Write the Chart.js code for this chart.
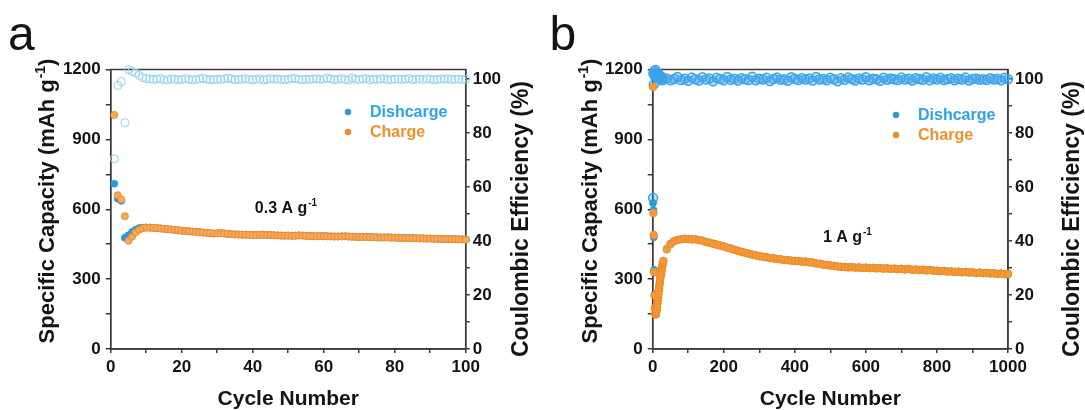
<!DOCTYPE html>
<html><head><meta charset="utf-8">
<script src="https://cdn.jsdelivr.net/npm/chart.js@4/dist/chart.umd.min.js"></script>
<style>
html,body{margin:0;padding:0;background:#fff;}
#wrap{position:relative;width:1085px;height:411px;overflow:hidden;background:#fff;}
.pane{position:absolute;top:0;height:411px;}
</style></head><body>
<div id="wrap">
<div class="pane" style="left:0;width:545px"><canvas id="ca" width="545" height="411"></canvas></div>
<div class="pane" style="left:545px;width:540px"><canvas id="cb" width="540" height="411"></canvas></div>
</div>
<script>
// ---------- Panel a : 0.3 A g-1, 100 cycles ----------
const cyclesA = [1,2,3,4,5,6,7,8,9,10,11,12,13,14,15,16,17,18,19,20,21,22,23,24,25,26,27,28,29,30,31,32,33,34,35,36,37,38,39,40,41,42,43,44,45,46,47,48,49,50,51,52,53,54,55,56,57,58,59,60,61,62,63,64,65,66,67,68,69,70,71,72,73,74,75,76,77,78,79,80,81,82,83,84,85,86,87,88,89,90,91,92,93,94,95,96,97,98,99,100];
const dischargeA = [710,645,636,478,488,502,512,519,521,522,
 521,520,519,518,516,514,513,511,509,508,
 507,505,504,503,502,500,499,497,496,497,
 498,496,494,493,492,492,491,491,490,490,
 489,490,491,490,489,488,488,487,487,487,
 486,487,488,487,486,485,485,484,485,485,
 484,484,483,483,484,484,483,482,482,481,
 481,482,481,480,480,479,479,480,479,478,
 478,477,477,476,477,476,475,475,474,474,
 474,473,473,472,473,472,472,471,471,471];
const chargeA = [1005,660,642,570,465,482,500,512,518,521,
 521,520,519,517,516,515,513,511,510,508,
 507,506,504,503,501,500,499,498,496,497,
 497,496,495,493,492,491,491,490,490,489,
 489,490,490,490,489,488,487,487,486,487,
 486,486,487,487,486,485,484,484,485,484,
 484,483,483,483,483,484,483,482,481,481,
 481,481,480,480,479,479,479,479,478,478,
 477,477,476,476,476,476,475,475,474,474,
 473,473,472,472,472,472,471,471,470,470];
const ceA = [70.5,97.7,99.1,83.9,103.6,102.9,102.3,101.4,100.6,100.2,
 100.1,99.9,100.0,100.3,99.8,99.7,100.1,100.0,99.8,99.9,
 100.2,100.0,99.7,99.9,100.1,100.3,100.0,99.8,99.9,100.0,
 99.9,100.2,100.4,100.1,99.8,99.9,100.0,100.2,99.9,99.8,
 100.0,100.1,99.7,99.9,100.2,100.0,100.1,99.9,99.8,100.0,
 100.2,100.3,99.9,99.8,100.0,99.9,100.1,100.2,99.9,100.0,
 100.4,100.1,99.8,100.0,100.2,99.9,99.7,100.5,100.0,99.9,
 100.1,100.3,99.8,100.0,99.9,100.1,100.2,99.8,99.9,100.0,
 100.1,99.9,100.0,100.3,99.8,100.0,100.1,99.9,100.2,100.0,
 99.8,99.9,100.1,100.0,100.2,99.9,100.0,100.1,99.9,100.0];

// ---------- Panel b : 1 A g-1, 1000 cycles ----------
const cyclesB = [1,2,3,4,5,6,7,8,9,10,11,12,13,14,15,16,17,18,19,20,21,22,23,24,25,26,27,28,29,30,
 40,50,60,70,80,90,100,110,120,130,140,150,160,170,180,190,200,210,220,230,
 240,250,260,270,280,290,300,310,320,330,340,350,360,370,380,390,400,410,420,430,
 440,450,460,470,480,490,500,510,520,530,540,550,560,570,580,590,600,610,620,630,
 640,650,660,670,680,690,700,710,720,730,740,750,760,770,780,790,800,810,820,830,
 840,850,860,870,880,890,900,910,920,930,940,950,960,970,980,990,1000];
const dischargeB = [627,597,480,340,235,178,153,149,151,159,169,181,194,208,222,236,250,263,276,288,300,311,321,331,340,349,357,365,372,379,
 430,452,463,469,472,474,473,471,472,468,466,460,457,453,449,445,441,436,432,427,
 422,418,414,410,406,403,399,397,395,391,390,387,386,383,382,380,379,378,376,376,
 373,372,368,367,363,362,359,358,355,354,353,351,352,350,351,349,350,348,349,347,
 348,346,347,345,346,344,345,342,344,341,342,340,341,338,340,337,337,335,336,333,
 334,332,333,330,332,329,330,327,329,326,327,325,326,323,325,322,323];
const chargeB = [1125,584,489,330,230,175,152,148,150,158,168,180,193,207,221,235,249,262,275,287,299,310,320,330,339,348,356,364,371,378,
 428,450,462,468,471,473,472,470,471,467,465,459,456,452,448,444,440,435,431,426,
 421,417,413,409,405,402,398,396,394,390,389,386,385,382,381,379,378,377,375,375,
 372,371,367,366,362,361,358,357,354,353,352,350,351,349,350,348,349,347,348,346,
 347,345,346,344,345,343,344,341,343,340,341,339,340,337,339,336,336,334,335,332,
 333,331,332,329,331,328,329,326,328,325,326,324,325,322,324,321,322];
const ceB = [56,102,98,103,102,102,101,103.4,102,101,101,102,101,100.3,101,102,101,100.4,101,100.2,101,100.5,100,101,100.3,99.6,100.4,100.2,99.8,100.1,
 100.3,99.6,100.1,100.8,99.7,100.2,99.4,100.6,100.0,99.5,100.7,99.9,100.3,99.2,100.5,100.1,99.6,100.8,99.8,100.2,
 99.5,100.4,100.0,99.7,100.9,99.6,100.2,99.9,100.5,99.3,100.1,100.6,99.8,100.0,99.4,100.7,100.2,99.7,100.4,99.9,
 100.3,99.5,100.8,99.9,100.1,99.6,100.5,100.0,99.2,100.4,99.8,100.6,100.1,99.5,100.3,99.9,100.7,99.6,100.2,100.0,
 99.4,100.5,99.8,100.3,100.0,99.7,100.6,99.9,100.2,99.5,100.4,100.1,99.8,100.7,99.6,100.3,99.9,100.5,99.7,100.1,
 100.4,99.6,100.2,99.9,100.6,99.5,100.1,100.3,99.8,100.0,99.7,100.4,99.9,100.2,99.6,100.5,100.0];

// ---------- tick values ----------
const capTicks = [0,150,300,450,600,750,900,1050,1200];
const ceTicks = [0,10,20,30,40,50,60,70,80,90,100];

const FONT = '"Liberation Sans", Arial, Helvetica, "DejaVu Sans", sans-serif';
const INK = '#141414';
const AXC = '#3a3a3a';
Chart.defaults.font.family = FONT;

// draw text made of normal + superscript segments, centred at (cx,cy), rotated
function richText(ctx, cx, cy, segs, size, color, rot, align) {
  ctx.save();
  ctx.translate(cx, cy);
  ctx.rotate(rot);
  ctx.fillStyle = color;
  ctx.textBaseline = 'alphabetic';
  ctx.textAlign = 'left';
  const supSize = Math.round(size * 0.62);
  let total = 0;
  const widths = segs.map(s => {
    ctx.font = `bold ${s.sup ? supSize : size}px ${FONT}`;
    const w = ctx.measureText(s.t).width + (s.sup ? 1 : 0);
    total += w; return w;
  });
  let x = align === 'left' ? 0 : -total / 2;
  const base = align === 'left' ? 0 : size * 0.36;
  segs.forEach((s, i) => {
    ctx.font = `bold ${s.sup ? supSize : size}px ${FONT}`;
    ctx.fillText(s.t, x + (s.sup ? 1 : 0), base - (s.sup ? size * 0.42 : 0));
    x += widths[i];
  });
  ctx.restore();
}

const decor = {
  id: 'decor',
  beforeDatasetsDraw(chart) {
    const {ctx, chartArea: a} = chart;
    ctx.save();
    ctx.strokeStyle = AXC; ctx.lineWidth = 1.5;
    ctx.strokeRect(a.left, a.top, a.right - a.left, a.bottom - a.top);
    ctx.restore();
  },
  afterDraw(chart, args, o) {
    const {ctx, scales} = chart;
    ctx.save();
    ctx.fillStyle = INK; ctx.font = `48px ${FONT}`;
    ctx.textBaseline = 'alphabetic'; ctx.textAlign = 'left';
    ctx.fillText(o.letter, o.letterX, o.letterY);
    // axis titles
    richText(ctx, o.lTitleX, o.lTitleY, [{t: 'Specific Capacity (mAh g'}, {t: '-1', sup: true}, {t: ')'}], 22, INK, -Math.PI / 2, 'center');
    richText(ctx, o.rTitleX, o.rTitleY, [{t: 'Coulombic Efficiency (%)'}], 23, INK, -Math.PI / 2, 'center');
    // legend
    o.legend.forEach((it, i) => {
      const ds = chart.data.datasets[it.ds];
      const y = o.legendY + i * 20;
      ctx.beginPath(); ctx.arc(o.legendX, y, 3.2, 0, Math.PI * 2);
      ctx.fillStyle = ds.pointBorderColor; ctx.fill();
      ctx.font = `bold 16px ${FONT}`; ctx.fillStyle = it.color;
      ctx.textBaseline = 'middle'; ctx.textAlign = 'left';
      ctx.fillText(ds.label, o.legendX + 22, y + 1);
    });
    // current-density note
    const nx = scales.x.getPixelForValue(o.note.x), ny = scales.y.getPixelForValue(o.note.y);
    richText(ctx, nx, ny, [{t: o.note.base}, {t: o.note.sup, sup: true}], 16, INK, 0, 'left');
    ctx.restore();
  }
};

function scalesFor(o) {
  const tickFont = {family: FONT, size: 17, weight: 'bold'};
  const grid = {drawOnChartArea: false, drawTicks: true, color: AXC, lineWidth: 1.5};
  return {
    x: {type: 'linear', position: 'bottom', min: 0, max: o.xMax,
      ticks: {stepSize: o.xStep, autoSkip: false, maxRotation: 0, padding: 4, color: INK, font: tickFont,
        callback: (v) => (v % o.xMajor === 0 ? String(v) : '')},
      grid: {...grid, tickLength: 4}, border: {color: AXC, width: 1.5},
      title: {display: true, text: 'Cycle Number', color: INK,
        font: {family: FONT, size: 21, weight: 'bold', lineHeight: 1.1}, padding: {top: 0, bottom: 0}},
      afterFit: (s) => { s.height = 62; }},
    y: {type: 'linear', position: 'left', min: 0, max: 1200,
      ticks: {autoSkip: false, padding: 5, color: INK, font: tickFont,
        callback: (v) => (v % 300 === 0 ? String(v) : '')},
      afterBuildTicks: (s) => { s.ticks = capTicks.map(v => ({value: v})); },
      grid: {...grid, tickLength: 5}, border: {color: AXC, width: 1.5},
      afterFit: (s) => { s.width = o.leftW; }},
    y2: {type: 'linear', position: 'right', min: 0, max: 103.6,
      ticks: {autoSkip: false, padding: 3, color: INK, font: tickFont,
        callback: (v) => (v % 20 === 0 ? String(v) : '')},
      afterBuildTicks: (s) => { s.ticks = ceTicks.map(v => ({value: v})); },
      grid: {...grid, tickLength: 4}, border: {color: AXC, width: 1.5},
      afterFit: (s) => { s.width = o.rightW; }}
  };
}

function pts(xs, ys) { return xs.map((x, i) => ({x: x, y: ys[i]})); }

function makeChart(id, p) {
  return new Chart(document.getElementById(id), {
    type: 'scatter',
    data: {datasets: [
      {label: 'Dishcarge', data: pts(p.cycles, p.dis), yAxisID: 'y', showLine: false, order: 2, clip: false,
        pointRadius: 3.5, pointBackgroundColor: '#2b98dd', pointBorderColor: '#2b98dd', pointBorderWidth: 0.8},
      {label: 'Charge', data: pts(p.cycles, p.chg), yAxisID: 'y', showLine: false, order: 1, clip: false,
        pointRadius: p.chgR, pointBackgroundColor: p.chgFill, pointBorderColor: '#f08a22', pointBorderWidth: 1},
      {label: 'Coulombic Efficiency', data: pts(p.cycles, p.ce), yAxisID: 'y2', showLine: false, order: 3, clip: false,
        pointRadius: p.ceR, pointBackgroundColor: p.ceFill, pointBorderColor: p.ceColor, pointBorderWidth: p.ceW}
    ]},
    options: {
      responsive: false, animation: false, events: [],
      layout: {padding: {top: 69.5, left: 0, right: 0, bottom: 0}},
      plugins: {legend: {display: false}, tooltip: {enabled: false},
        decor: p.decor},
      scales: scalesFor(p.axes)
    },
    plugins: [decor]
  });
}

makeChart('ca', {
  cycles: cyclesA, dis: dischargeA, chg: chargeA, ce: ceA,
  chgFill: '#f6a960', chgR: 3.5, ceColor: '#8fd0f0', ceFill: 'rgba(0,0,0,0)', ceR: 4, ceW: 1,
  axes: {xMax: 100, xStep: 10, xMajor: 20, leftW: 110.7, rightW: 79.3},
  decor: {letter: 'a', letterX: 8, letterY: 50,
    lTitleX: 46.5, lTitleY: 201, rTitleX: 520, rTitleY: 219,
    legend: [{ds: 0, color: '#2ea2e8'}, {ds: 1, color: '#f0902c'}], legendX: 348, legendY: 112,
    note: {x: 40.6, y: 584, base: '0.3 A g', sup: '-1'}}
});

makeChart('cb', {
  cycles: cyclesB, dis: dischargeB, chg: chargeB, ce: ceB,
  chgFill: '#f39a3c', chgR: 3.8, ceColor: '#3ea4e8', ceFill: 'rgba(62,164,232,0.35)', ceR: 4.5, ceW: 1.5,
  axes: {xMax: 1000, xStep: 100, xMajor: 200, leftW: 107.7, rightW: 77},
  decor: {letter: 'b', letterX: 4.5, letterY: 50,
    lTitleX: 44, lTitleY: 201, rTitleX: 526, rTitleY: 219,
    legend: [{ds: 0, color: '#2ea2e8'}, {ds: 1, color: '#f0902c'}], legendX: 351, legendY: 115,
    note: {x: 479, y: 459, base: '1 A g', sup: '-1'}}
});
</script>
</body></html>
